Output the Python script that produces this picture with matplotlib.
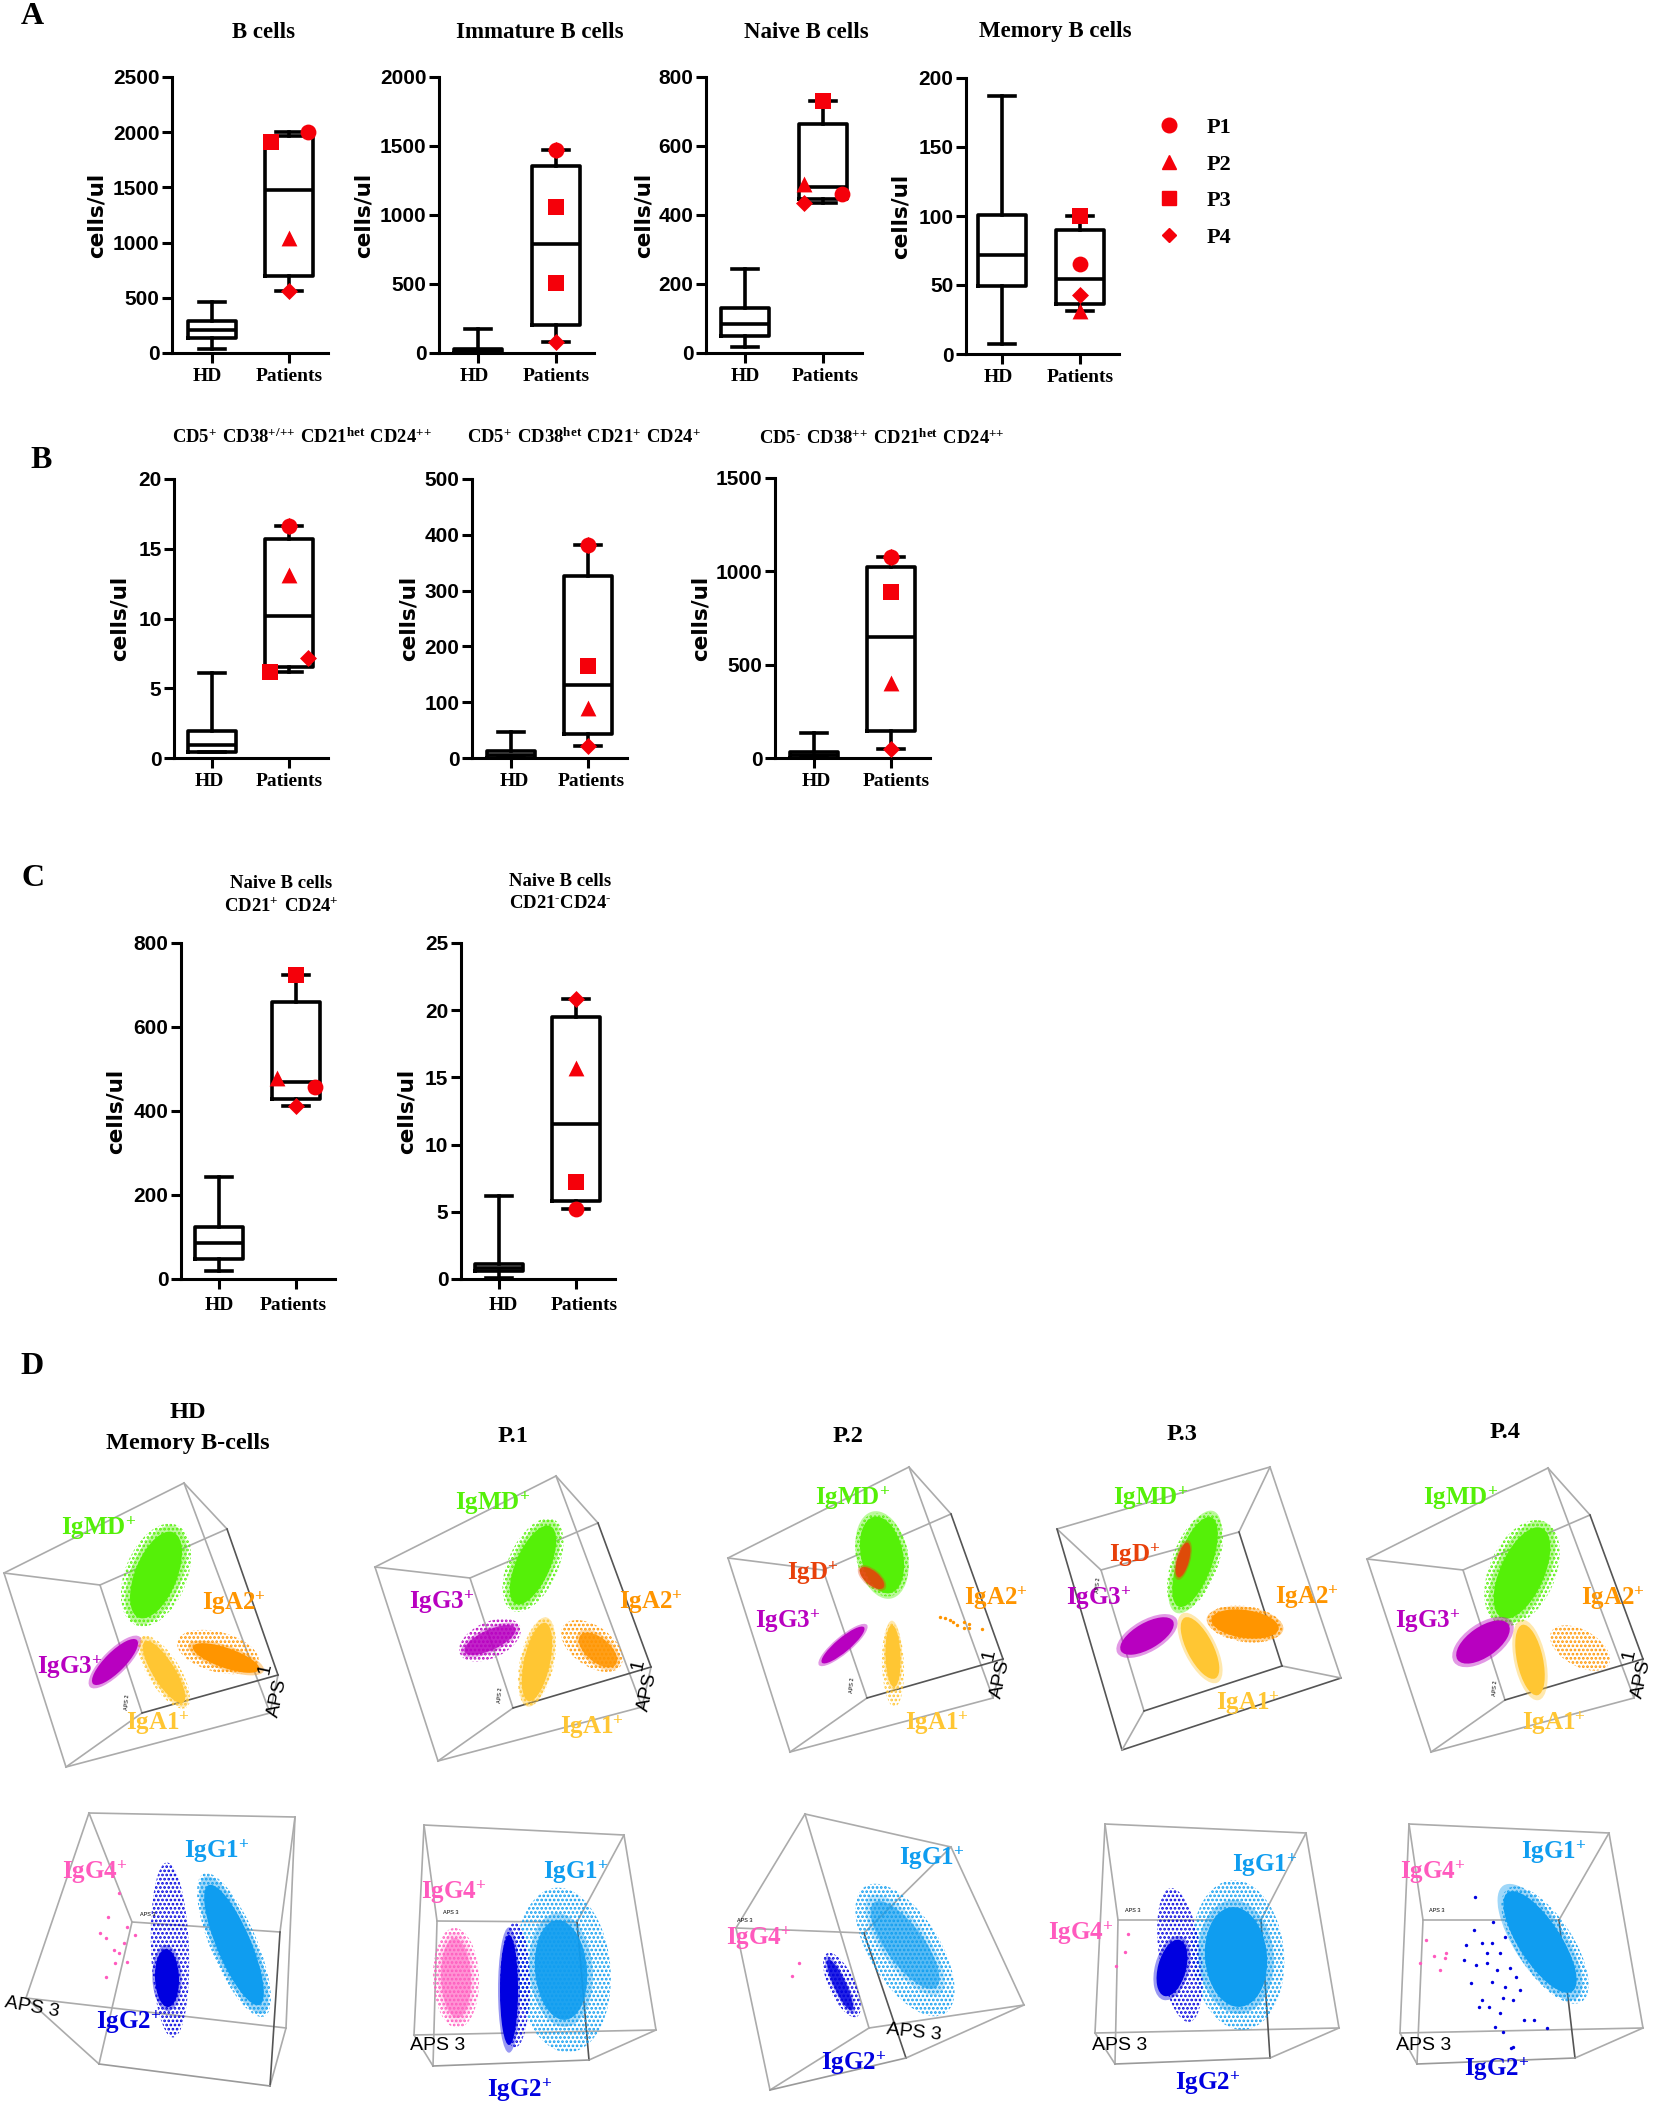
import matplotlib
matplotlib.use("Agg")
import matplotlib.pyplot as plt
from matplotlib.lines import Line2D
from matplotlib.patches import Ellipse
from matplotlib.transforms import ScaledTranslation

plt.rcParams['font.family'] = ['Liberation Serif', 'DejaVu Serif']
plt.rcParams['mathtext.fontset'] = 'custom'
plt.rcParams['mathtext.bf'] = 'Liberation Serif:bold'
plt.rcParams['mathtext.rm'] = 'Liberation Serif:bold'
plt.rcParams['hatch.linewidth'] = 1.3

W, H = 1654, 2121
RED = '#F5000A'
categories = ["HD", "Patients"]

# box stats: whisker low, q1, median, q3, whisker high
bcells_hd = [40, 140, 210, 290, 460]
bcells_pt = [560, 700, 1480, 1970, 2005]
imm_hd = [0, 0, 15, 30, 175]
imm_pt = [80, 205, 790, 1355, 1470]
naive_hd = [18, 50, 85, 130, 243]
naive_pt = [435, 445, 480, 665, 730]
mem_hd = [7, 49, 72, 101, 187]
mem_pt = [31, 36, 54, 90, 100]
cd5a_hd = [0.4, 0.4, 0.9, 1.9, 6.1]
cd5a_pt = [6.2, 6.5, 10.2, 15.7, 16.6]
cd5b_hd = [0, 0, 6, 12, 46]
cd5b_pt = [22, 43, 130, 327, 381]
cd5c_hd = [0, 0, 14, 30, 135]
cd5c_pt = [50, 145, 650, 1025, 1078]
nv21p_hd = [18, 48, 85, 125, 243]
nv21p_pt = [413, 428, 470, 660, 724]
nv21n_hd = [0.1, 0.6, 0.85, 1.1, 6.2]
nv21n_pt = [5.2, 5.8, 11.5, 19.5, 20.8]

# patient points: marker, value, x offset from the box centre
bcells_pts = [('o', 2005, .25), ('^', 1040, 0), ('s', 1910, -.23), ('D', 560, 0)]
imm_pts = [('o', 1470, 0), ('D', 1470, 0), ('s', 1060, 0), ('s', 510, 0), ('D', 80, 0)]
naive_pts = [('o', 460, .24), ('^', 490, -.24), ('s', 730, 0), ('D', 435, -.24)]
mem_pts = [('o', 65, 0), ('^', 31, 0), ('s', 100, 0), ('D', 43, 0)]
cd5a_pts = [('o', 16.6, 0), ('D', 16.6, 0), ('^', 13.1, 0), ('s', 6.2, -.25), ('D', 7.2, .25)]
cd5b_pts = [('o', 381, 0), ('D', 381, 0), ('s', 165, 0), ('^', 90, 0), ('D', 22, 0)]
cd5c_pts = [('o', 1078, 0), ('D', 1078, 0), ('s', 890, 0), ('^', 400, 0), ('D', 50, 0)]
nv21p_pts = [('o', 458, .25), ('^', 478, -.25), ('s', 724, 0), ('D', 413, 0)]
nv21n_pts = [('o', 5.2, 0), ('^', 15.7, 0), ('s', 7.2, 0), ('D', 20.8, 0)]

# axes: left, right, hd x, patients x, y top, y zero, ymax, step, ylabel x, label shifts
panels = [
    (172, 328, 212, 289, 77, 353, 2500, 500, 97, (-5, 0), bcells_hd, bcells_pt, bcells_pts),
    (439, 594, 478, 556, 77, 353, 2000, 500, 364, (-4, 0), imm_hd, imm_pt, imm_pts),
    (706, 862, 745, 823, 77, 353, 800, 200, 644, (0, 2), naive_hd, naive_pt, naive_pts),
    (966, 1119, 1002, 1080, 78, 354, 200, 50, 901, (-4, 0), mem_hd, mem_pt, mem_pts),
    (174, 328, 212, 289, 479, 758, 20, 5, 120, (-3, 0), cd5a_hd, cd5a_pt, cd5a_pts),
    (472, 627, 511, 588, 479, 758, 500, 100, 409, (3, 3), cd5b_hd, cd5b_pt, cd5b_pts),
    (775, 930, 814, 891, 478, 758, 1500, 500, 701, (2, 5), cd5c_hd, cd5c_pt, cd5c_pts),
    (181, 335, 219, 296, 943, 1279, 800, 200, 116, (0, -3), nv21p_hd, nv21p_pt, nv21p_pts),
    (461, 615, 499, 576, 943, 1279, 25, 5, 407, (4, 8), nv21n_hd, nv21n_pt, nv21n_pts),
]


def sup(base, s):
    return r"$\mathbf{" + base + "^{" + s + "}}$"


def cd(*parts):
    return r"$\mathbf{" + r"\ ".join(b + "^{" + s + "}" for b, s in parts) + "}$"


MINUS = r"\text{-}"
titles = [
    ("B cells", 263, 32, 16.5), ("Immature B cells", 540, 32, 16.5),
    ("Naive B cells", 806, 32, 16.5), ("Memory B cells", 1055, 31, 16.5),
    (cd(("CD5", "+"), ("CD38", "+/{+}{+}"), ("CD21", "het"), ("CD24", "{+}{+}")), 302, 437, 13.4),
    (cd(("CD5", "+"), ("CD38", "het"), ("CD21", "+"), ("CD24", "+")), 584, 437, 13.4),
    (cd(("CD5", MINUS), ("CD38", "{+}{+}"), ("CD21", "het"), ("CD24", "{+}{+}")), 882, 438, 13.4),
    ("Naive B cells", 281, 883, 13.5), (cd(("CD21", "+"), ("CD24", "+")), 281, 906, 13.5),
    ("Naive B cells", 560, 882, 13.5), (r"$\mathbf{CD21^{" + MINUS + "}CD24^{" + MINUS + "}}$", 560, 904, 13.5),
    ("HD", 188, 1413, 17.5), ("Memory B-cells", 188, 1443, 17.5),
    ("P.1", 513, 1437, 17.5), ("P.2", 848, 1436, 17.5),
    ("P.3", 1182, 1434, 17.5), ("P.4", 1505, 1433, 17.5),
]
letters = [("A", 32, 17), ("B", 41, 460), ("C", 33, 878), ("D", 32, 1366)]

# section D: cube corners a b c d (back face) e f h g (front face)
cubes = [
    [(4, 1573), (184, 1483), (227, 1529), (100, 1585), (66, 1767), (270, 1713), (278, 1675), (142, 1713)],
    [(375, 1567), (556, 1476), (598, 1523), (470, 1578), (438, 1761), (642, 1707), (651, 1667), (513, 1708)],
    [(728, 1558), (909, 1467), (951, 1514), (823, 1570), (790, 1752), (993, 1698), (1003, 1659), (867, 1698)],
    [(1057, 1529), (1270, 1467), (1239, 1532), (1101, 1570), (1122, 1750), (1341, 1678), (1282, 1666), (1144, 1711)],
    [(1367, 1559), (1548, 1468), (1590, 1515), (1463, 1570), (1431, 1752), (1634, 1698), (1643, 1659), (1505, 1700)],
    [(89, 1813), (295, 1817), (280, 1932), (132, 1922), (26, 1998), (286, 2028), (270, 2086), (99, 2064)],
    [(424, 1825), (624, 1835), (577, 1922), (437, 1921), (414, 2035), (656, 2030), (589, 2060), (433, 2066)],
    [(805, 1814), (951, 1847), (864, 1933), (736, 1928), (869, 2028), (1024, 2005), (906, 2058), (770, 2090)],
    [(1105, 1824), (1306, 1833), (1261, 1920), (1118, 1920), (1095, 2033), (1339, 2028), (1270, 2058), (1115, 2064)],
    [(1409, 1824), (1609, 1833), (1559, 1920), (1423, 1920), (1400, 2033), (1643, 2028), (1575, 2058), (1417, 2064)],
]
cube_edges = [(0, 1), (1, 2), (2, 3), (3, 0), (0, 4), (1, 5), (3, 7), (4, 5), (5, 6), (4, 7)]
dark_edges = [(2, 6), (7, 6)]
extra_dark = {3: [(0, 4), (4, 5)]}

COL = dict(md='#55F008', d='#E8400A', g3='#B800C0', a1='#FFC633', a2='#FF9500',
           g1='#0F9DF0', g2='#0000E0', g4='#FF5ABE')

# clouds: colour, cx, cy, long axis, short axis, angle, core alpha
clouds = [
    ('md', 156, 1575, 92, 42, -68, 1), ('g3', 115, 1662, 62, 20, -45, 1), ('a1', 164, 1672, 72, 22, 58, 1), ('a2', 226, 1658, 70, 20, 19, 1),
    ('md', 533, 1565, 85, 34, -66, 1), ('g3', 490, 1640, 56, 20, -25, .8), ('a1', 537, 1662, 80, 26, -78, 1), ('a2', 598, 1650, 46, 24, 40, .85),
    ('md', 882, 1555, 78, 42, 78, 1), ('g3', 843, 1645, 55, 14, -40, 1), ('a1', 893, 1656, 62, 15, 88, 1), ('d', 872, 1578, 30, 14, 40, .85),
    ('md', 1195, 1562, 95, 34, -70, 1), ('g3', 1147, 1636, 60, 26, -30, 1), ('a1', 1200, 1648, 68, 26, 63, 1), ('a2', 1245, 1624, 68, 28, 8, 1), ('d', 1183, 1560, 36, 12, -75, .9),
    ('md', 1522, 1573, 98, 44, -66, 1), ('g3', 1483, 1642, 62, 30, -35, 1), ('a1', 1530, 1660, 72, 26, 78, 1),
    ('g1', 234, 1945, 130, 34, 67, 1), ('g2', 167, 1978, 58, 24, 88, 1),
    ('g1', 561, 1970, 100, 52, 85, .9), ('g2', 509, 1990, 110, 18, 90, 1), ('g4', 456, 1978, 80, 30, 88, .55),
    ('g1', 905, 1945, 105, 38, 54, .6), ('g2', 840, 1985, 56, 12, 65, .8),
    ('g1', 1236, 1957, 100, 62, 85, 1), ('g2', 1172, 1968, 58, 28, -75, 1),
    ('g1', 1540, 1942, 118, 42, 57, 1),
]
# thin dotted halo round the clouds: colour, cx, cy, long axis, short axis, angle
halos = [
    ('md', 156, 1575, 108, 62, -68), ('a2', 218, 1652, 84, 40, 15), ('a1', 164, 1672, 84, 32, 58),
    ('md', 533, 1565, 100, 50, -66), ('g3', 490, 1640, 66, 36, -25), ('a1', 537, 1662, 90, 34, -78), ('a2', 592, 1646, 70, 40, 35),
    ('md', 882, 1555, 84, 52, 78), ('a1', 893, 1665, 84, 22, 88),
    ('md', 1195, 1562, 104, 46, -70), ('a2', 1245, 1624, 76, 36, 8),
    ('md', 1522, 1573, 112, 66, -66), ('a2', 1580, 1648, 66, 36, 30),
    ('g1', 234, 1945, 155, 46, 67), ('g2', 170, 1950, 175, 38, 88),
    ('g1', 563, 1970, 165, 95, 85), ('g2', 515, 1985, 125, 30, 90), ('g4', 456, 1978, 100, 46, 88),
    ('g1', 905, 1950, 150, 70, 58), ('g2', 842, 1985, 70, 26, 65),
    ('g1', 1238, 1955, 150, 92, 85), ('g2', 1180, 1955, 135, 42, 82),
    ('g1', 1545, 1945, 135, 56, 57),
]

# sparse dots
ig_a2_p2 = [(940, 1617), (945, 1618), (950, 1620), (953, 1622), (957, 1625), (964, 1628), (969, 1624), (969, 1628), (982, 1629), (964, 1622)]
ig_g4_hd = [(108, 1917), (100, 1933), (106, 1938), (127, 1927), (135, 1935), (119, 1893), (114, 1950), (124, 1943), (119, 1953), (127, 1962), (115, 1963), (106, 1977)]
ig_g4_p2 = [(799, 1963), (792, 1976)]
ig_g4_p3 = [(1128, 1934), (1125, 1952), (1116, 1966)]
ig_g4_p4 = [(1426, 1940), (1434, 1956), (1446, 1953), (1420, 1963), (1440, 1970), (1445, 1958)]
ig_g2_p4 = [(1475, 1897), (1474, 1930), (1493, 1922), (1482, 1943), (1492, 1943), (1505, 1937), (1466, 1945), (1487, 1953),
            (1500, 1953), (1476, 1965), (1487, 1963), (1497, 1970), (1510, 1968), (1471, 1983), (1492, 1982), (1505, 1987),
            (1516, 1977), (1482, 2000), (1489, 2007), (1503, 1998), (1513, 2000), (1479, 2007), (1500, 2013), (1524, 2020),
            (1534, 2020), (1495, 2027), (1503, 2032), (1547, 2028), (1513, 2047), (1511, 2048), (1464, 1960), (1520, 1990)]
sparse = [('a2', ig_a2_p2), ('g4', ig_g4_hd), ('g4', ig_g4_p2), ('g4', ig_g4_p3), ('g4', ig_g4_p4), ('g2', ig_g2_p4)]

# name, colour, x, y
cloud_labels = [
    ("IgMD", 'md', 99, 1528), ("IgA2", 'a2', 234, 1603), ("IgG3", 'g3', 70, 1667), ("IgA1", 'a1', 158, 1723),
    ("IgMD", 'md', 493, 1503), ("IgG3", 'g3', 442, 1602), ("IgA2", 'a2', 651, 1602), ("IgA1", 'a1', 592, 1727),
    ("IgMD", 'md', 853, 1498), ("IgD", 'd', 813, 1573), ("IgG3", 'g3', 788, 1621), ("IgA2", 'a2', 996, 1598), ("IgA1", 'a1', 937, 1723),
    ("IgMD", 'md', 1151, 1498), ("IgD", 'd', 1135, 1555), ("IgG3", 'g3', 1099, 1598), ("IgA2", 'a2', 1307, 1597), ("IgA1", 'a1', 1248, 1703),
    ("IgMD", 'md', 1461, 1498), ("IgG3", 'g3', 1428, 1621), ("IgA2", 'a2', 1613, 1598), ("IgA1", 'a1', 1554, 1723),
    ("IgG1", 'g1', 217, 1851), ("IgG4", 'g4', 95, 1872), ("IgG2", 'g2', 129, 2022),
    ("IgG1", 'g1', 576, 1872), ("IgG4", 'g4', 454, 1892), ("IgG2", 'g2', 520, 2090),
    ("IgG1", 'g1', 932, 1858), ("IgG4", 'g4', 759, 1938), ("IgG2", 'g2', 854, 2063),
    ("IgG1", 'g1', 1265, 1865), ("IgG4", 'g4', 1081, 1933), ("IgG2", 'g2', 1208, 2083),
    ("IgG1", 'g1', 1554, 1852), ("IgG4", 'g4', 1433, 1872), ("IgG2", 'g2', 1497, 2069),
]
# axis names inside the cubes: text, x, y, rotation, size
axis_names = [
    ("APS", 278, 1698, 78, 14), ("1", 265, 1669, 78, 14), ("APS", 648, 1692, 78, 14), ("1", 638, 1665, 78, 14),
    ("APS", 1001, 1679, 78, 14), ("1", 989, 1655, 78, 14), ("APS", 1642, 1679, 78, 14), ("1", 1629, 1655, 78, 14),
    ("APS 3", 32, 2007, -10, 14), ("APS 3", 438, 2046, 0, 14), ("APS 3", 914, 2032, -6, 14),
    ("APS 3", 1120, 2045, 0, 14), ("APS 3", 1424, 2045, 0, 14),
    ("APS 3", 148, 1915, 0, 4), ("APS 3", 451, 1912, 0, 4), ("APS 3", 745, 1921, 0, 4), ("APS 3", 1133, 1911, 0, 4), ("APS 3", 1437, 1911, 0, 4),
    ("APS 2", 127, 1702, 85, 4), ("APS 2", 500, 1695, 85, 4), ("APS 2", 852, 1685, 85, 4), ("APS 2", 1098, 1585, 85, 4), ("APS 2", 1495, 1688, 85, 4),
]

fig = plt.figure(figsize=(W / 100, H / 100), dpi=100)
bg = fig.add_axes([0, 0, 1, 1])
bg.set_xlim(0, W)
bg.set_ylim(H, 0)
bg.axis('off')

for cube_no, c in enumerate(cubes):
    for i, j in cube_edges:
        col = '#555555' if (i, j) in extra_dark.get(cube_no, []) else '#ABABAB'
        bg.plot([c[i][0], c[j][0]], [c[i][1], c[j][1]], color=col, lw=1.2, zorder=1)
    for i, j in dark_edges:
        col = '#555555' if cube_no < 5 or (i, j) == (2, 6) else '#9A9A9A'
        bg.plot([c[i][0], c[j][0]], [c[i][1], c[j][1]], color=col, lw=1.2, zorder=1)

for name, cx, cy, a, b, ang in halos:
    bg.add_patch(Ellipse((cx, cy), a, b, angle=ang, fill=False, edgecolor=COL[name], lw=0, hatch='....', zorder=2))
for z, (name, cx, cy, a, b, ang, al) in enumerate(clouds):
    # soft fringe first, so the solid core does not end on a hard edge
    bg.add_patch(Ellipse((cx, cy), a * 1.14, b * 1.22, angle=ang, facecolor=COL[name], edgecolor='none', alpha=.4 * al, zorder=3 + z * .01))
    bg.add_patch(Ellipse((cx, cy), a, b, angle=ang, facecolor=COL[name], edgecolor='none', alpha=al, zorder=3 + z * .01))
for name, pts in sparse:
    bg.scatter([p[0] for p in pts], [p[1] for p in pts], s=6, color=COL[name], lw=0, zorder=4)

for name, col, x, y in cloud_labels:
    bg.text(x, y, sup(name, "+"), color=COL[col], fontsize=18, ha='center', va='center', zorder=6)
for s, x, y, rot, size in axis_names:
    bg.text(x, y, s, fontsize=size, family='Liberation Sans', rotation=rot, ha='center', va='center', zorder=6)

for s, x, y, size in titles:
    bg.text(x, y, s, fontsize=size, fontweight='bold', ha='center', va='center')
for s, x, y in letters:
    bg.text(x, y, s, fontsize=23, fontweight='bold', ha='center', va='center')

for left, right, xh, xp, ytop, y0, ymax, step, ylab_x, shifts, hd, pt, pts in panels:
    ax = fig.add_axes([left / W, 1 - y0 / H, (right - left) / W, (y0 - ytop) / H])
    ax.patch.set_alpha(0)
    unit = xp - xh
    ax.set_xlim(1 - (xh - left) / unit, 2 + (right - xp) / unit)
    ax.set_ylim(0, ymax)
    stats = [dict(whislo=s[0], q1=s[1], med=s[2], q3=s[3], whishi=s[4], fliers=[]) for s in (hd, pt)]
    line = dict(color='black', lw=2.6)
    ax.bxp(stats, positions=[1, 2], widths=.62, capwidths=.33, showfliers=False,
           boxprops=line, medianprops=line, whiskerprops=line, capprops=line, manage_ticks=False)
    for m, v, off in pts:
        ax.scatter(2 + off, v, marker=m, s=75 if m == 'D' else 130, color=RED, lw=0, zorder=5, clip_on=False)
    ax.set_xticks([1, 2])
    ax.set_xticklabels(categories, fontsize=14, fontweight='bold')
    ax.set_yticks(range(0, ymax + 1, step))
    ax.set_yticklabels([str(v) for v in range(0, ymax + 1, step)], fontsize=15, fontweight='bold', family='Liberation Sans')
    ax.tick_params(length=7, width=2.2)
    ax.tick_params(axis='x', pad=6 if y0 == 1279 else 4)
    ax.tick_params(axis='y', pad=2)
    for lab, dx in zip(ax.get_xticklabels(), shifts):
        lab.set_transform(lab.get_transform() + ScaledTranslation(dx / 100, 0, fig.dpi_scale_trans))
    for side in ('top', 'right'):
        ax.spines[side].set_visible(False)
    for side in ('left', 'bottom'):
        ax.spines[side].set_linewidth(2.2)
    bg.text(ylab_x, (ytop + y0) / 2, "cells/ul", rotation=90, fontsize=15.5, fontweight='bold',
            family='DejaVu Sans', ha='center', va='center')

handles = [Line2D([], [], marker=m, color=RED, ls='none', markersize=s) for m, s in
           [('o', 10.5), ('^', 10), ('s', 10), ('D', 7.5)]]
fig.legend(handles, ["P1", "P2", "P3", "P4"], loc='upper left', bbox_to_anchor=(1127 / W, 1 - 97.5 / H),
           frameon=False, handletextpad=.7, labelspacing=.72,
           prop=dict(family='Liberation Serif', weight='bold', size=16))

fig.savefig("out.png", dpi=100)
